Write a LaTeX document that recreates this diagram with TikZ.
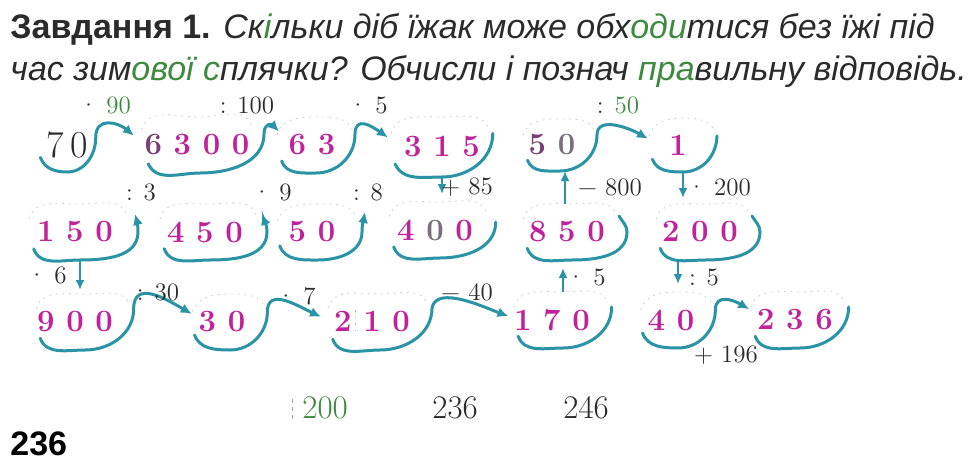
\documentclass[tikz,border=0pt]{standalone}
\usepackage{fontspec}
\usetikzlibrary{shapes.geometric,arrows.meta}
\newfontfamily\titlefont{Liberation Sans}
\definecolor{ink}{HTML}{2B2B2B}
\definecolor{numpink}{HTML}{C2219C}
\definecolor{numpurple}{HTML}{7B3F74}
\definecolor{numgray}{HTML}{7A6F78}
\definecolor{arcteal}{HTML}{2A93A6}
\definecolor{hintgreen}{HTML}{3E8A3E}
\newcommand{\grn}[1]{\textcolor{hintgreen}{#1}}
\newcommand{\numtext}[2][0pt]{\makebox[0pt]{\kern-#1#2\kern#1}}

\begin{document}
\begin{tikzpicture}[x=0.5pt, y=0.5pt,
    num/.style={ellipse, inner sep=0pt, outer sep=0pt, minimum height=28pt, text=numpink, font=\fontsize{15.5pt}{18pt}\selectfont\bfseries},
    op/.style={text=ink, inner sep=1pt, font=\fontsize{12.5pt}{15pt}\selectfont},
    bowl/.style={draw=arcteal, line width=1.5pt, line cap=round},
    tip/.style={-{Latex[length=5.5pt,width=5pt]}},
    varr/.style={draw=arcteal, line width=1pt, -{Latex[length=5pt,width=4.5pt]}},
    ghost/.style={draw=gray!40, line width=0.4pt, dash pattern=on 0.8pt off 2.5pt},
    title/.style={anchor=base west, inner sep=0pt, text=ink, font=\titlefont\fontsize{17pt}{20pt}\selectfont},
    ans/.style={anchor=base west, inner sep=0pt, text=ink, font=\fontsize{16.5pt}{19pt}\selectfont}]
\fill[white] (0,0) rectangle (976,468);
\useasboundingbox (0,0) rectangle (976,468);

\node[title] (head1) at (10,430) {\textbf{Завдання 1.} \textit{Ск\grn{і}льки діб їжак може обх\grn{оди}тися без їжі під}};
\node[title] (head2) at (10,388) {\textit{час зим\grn{ової} \grn{с}плячки? Обчисли і познач \grn{пра}вильну відповідь.}};

\node[num, minimum width=30pt, minimum height=27pt, text=ink, font=\fontsize{19pt}{22pt}\selectfont] (n70) at (67,323) {\numtext{7\,0}};
\node[num, minimum width=70pt] (n6300) at (200,323) {\numtext[1.5pt]{\textcolor{numpurple}{6}~3~0~0}};
\node[num, minimum width=42pt] (n63) at (316,323) {\numtext[2pt]{6~3}};
\node[num, minimum width=57pt, minimum height=30pt] (n315) at (442,321) {\numtext{3~1~5}};
\node[num, minimum width=40pt, minimum height=26pt] (n50a) at (560,323) {\numtext[4pt]{\textcolor{numpurple}{5}~\textcolor{numgray}{0}}};
\node[num, minimum width=36pt, minimum height=27pt] (n1) at (683,323) {\numtext[2.5pt]{1}};

\node[num, minimum width=58pt] (n150) at (80,236) {\numtext[2.5pt]{1~5~0}};
\node[num, minimum width=57pt] (n450) at (210,236) {\numtext[2.5pt]{4~5~0}};
\node[num, minimum width=44pt] (n50b) at (318,236) {\numtext[3pt]{5~0}};
\node[num, minimum width=58pt] (n400) at (440,238) {\numtext[2.5pt]{4~\textcolor{numgray}{0}~0}};
\node[num, minimum width=55pt] (n850) at (572,236) {\numtext[2.5pt]{8~5~0}};
\node[num, minimum width=55pt] (n200) at (705,236) {\numtext[2.5pt]{2~0~0}};

\node[num, minimum width=55pt] (n900) at (85,146) {\numtext[5pt]{9~0~0}};
\node[num, minimum width=40pt] (n30) at (230,146) {\numtext[4pt]{3~0}};
\node[num, minimum width=60pt] (n210) at (380,146) {\numtext[4pt]{2~1~0}};
\node[num, minimum width=55pt] (n170) at (563,148) {\numtext[5.5pt]{1~7~0}};
\node[num, minimum width=40pt] (n40) at (678,148) {\numtext[3.5pt]{4~0}};
\node[num, minimum width=55pt] (n236) at (800,148) {\numtext[2.5pt]{2~3~6}};

\foreach \n in {n6300,n63,n315,n50a,n1,n150,n450,n50b,n400,n850,n200,n900,n30,n210,n170,n40,n236}
    \draw[ghost] (\n.165) to[out=75,in=180] (\n.north) to[out=0,in=105] (\n.20);
\draw[ghost, draw=gray!60] ([xshift=-12.5pt]n210.center) ++(0,12) -- ++(0,-24);

\draw[bowl,tip] (n70.205) to[out=-70,in=180] (n70.south) to[out=0,in=-90] (n70.15) to[out=90,in=140,looseness=1.4] (n6300.172);
\draw[bowl,tip] (n6300.200) to[out=-65,in=180] (n6300.south) to[out=0,in=-90] (n6300.10) to[out=90,in=135,looseness=1.8] (n63.160);
\draw[bowl,tip] (n63.205) to[out=-70,in=180] (n63.south) to[out=0,in=-90] (n63.15) to[out=90,in=145,looseness=1.5] (n315.170);
\draw[bowl] (n315.200) to[out=-65,in=180] (n315.south) to[out=0,in=-90] (n315.15);
\draw[bowl,tip] (n50a.205) to[out=-70,in=180] (n50a.south) to[out=0,in=-90] (n50a.15) to[out=90,in=150] (n1.170);
\draw[bowl] (n1.205) to[out=-70,in=180] (n1.south) to[out=0,in=-90] (n1.15);

\draw[bowl,tip] (n150.200) to[out=-70,in=180] (n150.south) to[out=0,in=-90] (n150.east) to[out=90,in=-75] ++(-3,18);
\draw[bowl,tip] (n450.200) to[out=-70,in=180] (n450.south) to[out=0,in=-90] (n450.east) to[out=90,in=-70] ++(-5,18);
\draw[bowl,tip] (n50b.200) to[out=-70,in=180] (n50b.south) to[out=0,in=-90] (n50b.east) to[out=90,in=-100] ++(3,20);
\draw[bowl] (n400.200) to[out=-70,in=180] (n400.south) to[out=0,in=-90] (n400.8);
\draw[bowl] (n850.200) to[out=-70,in=180] (n850.south) to[out=0,in=-90] (n850.east) to[out=90,in=-60] ++(-8,16);
\draw[bowl] (n200.200) to[out=-70,in=180] (n200.south) to[out=0,in=-90] (n200.east) to[out=90,in=-60] ++(-8,16);

\draw[bowl,tip] (n900.200) to[out=-70,in=180] (n900.south) to[out=0,in=-90] (n900.15) to[out=90,in=150,looseness=1.3] (n30.168);
\draw[bowl,tip] (n30.200) to[out=-70,in=180] (n30.south) to[out=0,in=-90] (n30.15) to[out=90,in=155,looseness=1.2] (n210.175);
\draw[bowl,tip] (n210.200) to[out=-70,in=180] (n210.south) to[out=0,in=-90] (n210.15) to[out=80,in=160,looseness=0.8] (n170.176);
\draw[bowl] (n170.200) to[out=-70,in=180] (n170.south) to[out=0,in=-90] (n170.15);
\draw[bowl,tip] (n40.200) to[out=-70,in=180] (n40.south) to[out=0,in=-90] (n40.15) to[out=90,in=150,looseness=1.3] (n236.168);
\draw[bowl] (n236.200) to[out=-70,in=180] (n236.south) to[out=0,in=-90] (n236.15);

\draw[varr, shorten >=4pt] (n315.south) -- (n315.south |- n400.north);
\draw[varr] ([xshift=-3.5pt]n850.north) -- ([xshift=-3.5pt]n850.north |- n50a.south);
\draw[varr, shorten >=3pt] (n1.south) -- (n1.south |- n200.north);
\draw[varr, shorten >=2pt] (n150.south) -- (n150.south |- n900.north);
\draw[varr, shorten >=4pt] (n170.north) -- (n170.north |- n850.south);
\draw[varr, shorten >=4pt] (n40.north |- n200.south) -- (n40.north);

\node[op] (lbl90) at (105,363) {· \grn{90}};
\node[op] (lbl100) at (247,363) {: 100};
\node[op] (lbl5a) at (368,363) {· 5};
\node[op] (lbl50) at (618,363) {: \grn{50}};
\node[op] (lbl85) at (467,281) {+ 85};
\node[op] (lbl800) at (610,281) {− 800};
\node[op] (lbl200) at (719,281) {· 200};
\node[op] (lbl3) at (141,276) {: 3};
\node[op] (lbl9) at (272,276) {· 9};
\node[op] (lbl8) at (368,276) {: 8};
\node[op] (lbl6) at (47,193) {· 6};
\node[op] (lbl30) at (158,176) {: 30};
\node[op] (lbl7) at (296,172) {· 7};
\node[op] (lbl40) at (467,176) {− 40};
\node[op] (lbl5b) at (586,191) {· 5};
\node[op] (lbl5c) at (704,191) {: 5};
\node[op] (lbl196) at (726,113) {+ 196};

\node[ans, text=hintgreen] (a200) at (302,50) {200};
\node[ans] (a236) at (432,50) {236};
\node[ans] (a246) at (563,50) {246};
\draw[ghost, draw=gray!70, dash pattern=on 2pt off 2pt] ([xshift=-5pt]a200.south west) -- ([xshift=-5pt]a200.north west);

\node[anchor=base west, inner sep=0pt, text=black, font=\titlefont\bfseries\fontsize{17pt}{20pt}\selectfont] (page) at (10,13) {236};
\end{tikzpicture}
\end{document}
